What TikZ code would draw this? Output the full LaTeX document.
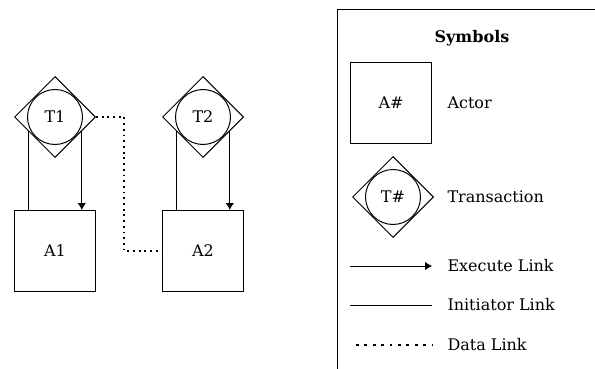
\documentclass[tikz,border=0pt]{standalone}
\usepackage{fontspec}
\setmainfont{DejaVu Serif}
\usetikzlibrary{arrows.meta,shapes.geometric}

\tikzset{
  actor/.style={draw,rectangle,minimum size=81pt,inner sep=0pt},
  trans/.style={draw,diamond,minimum size=81pt,inner sep=0pt},
  transc/.style={draw,circle,minimum size=55pt,inner sep=0pt},
  datalink/.style={line width=1.6pt,dash pattern=on 1.8pt off 3.9pt},
  legdata/.style={line width=1.6pt,dash pattern=on 2.8pt off 5.6pt},
  legtext/.style={anchor=west,inner sep=0pt}
}

\begin{document}
\begin{tikzpicture}[>={Latex[length=7pt,width=8.5pt]},x=1pt,y=-1pt,line width=1pt,node distance=148pt,font=\fontsize{16}{19}\selectfont]
  \useasboundingbox (0,0) rectangle (595,369);
  % transactions and actors
  \node[transc] (T1) at (55,117) {T1};
  \node[trans] (T1d) at (T1) {};
  \node[transc] (T2) [right of=T1] {T2};
  \node[trans] (T2d) at (T2) {};
  \node[actor] (A1) [below of=T1,node distance=134pt] {A1};
  \node[actor] (A2) [below of=T2,node distance=134pt] {A2};
  \draw (T1d.208) -- (T1d.208 |- A1.north);
  \draw[->] (T1d.332) -- (T1d.332 |- A1.north);
  \draw (T2d.208) -- (T2d.208 |- A2.north);
  \draw[->] (T2d.332) -- (T2d.332 |- A2.north);
  \draw[datalink] (T1d.east) -- ++(28,0) |- (A2.west);
  % symbols
  \draw (337,369) -- (337,9.3) -- (595,9.3);
  \node (sym) at (472,38) {\bfseries Symbols};
  \node[actor] (actA) at (391,103) {A\#};
  \node[legtext] (actT) at (447,103) {Actor};
  \node[transc] (trT) at (393,197) {T\#};
  \node[trans] (trTd) at (trT) {};
  \node[legtext] (trL) at (447,197) {Transaction};
  \coordinate (ex1) at (350,266);
  \coordinate (ex2) at (432,266);
  \draw[->] (ex1) -- (ex2);
  \node[legtext] (exL) at (447,266) {Execute Link};
  \coordinate (in1) at (350,305);
  \coordinate (in2) at (432,305);
  \draw (in1) -- (in2);
  \node[legtext] (inL) at (447,305) {Initiator Link};
  \coordinate (da1) at (356,345);
  \coordinate (da2) at (432,345);
  \draw[legdata] (da1) -- (da2);
  \node[legtext] (daL) at (447,345) {Data Link};
\end{tikzpicture}
\end{document}
